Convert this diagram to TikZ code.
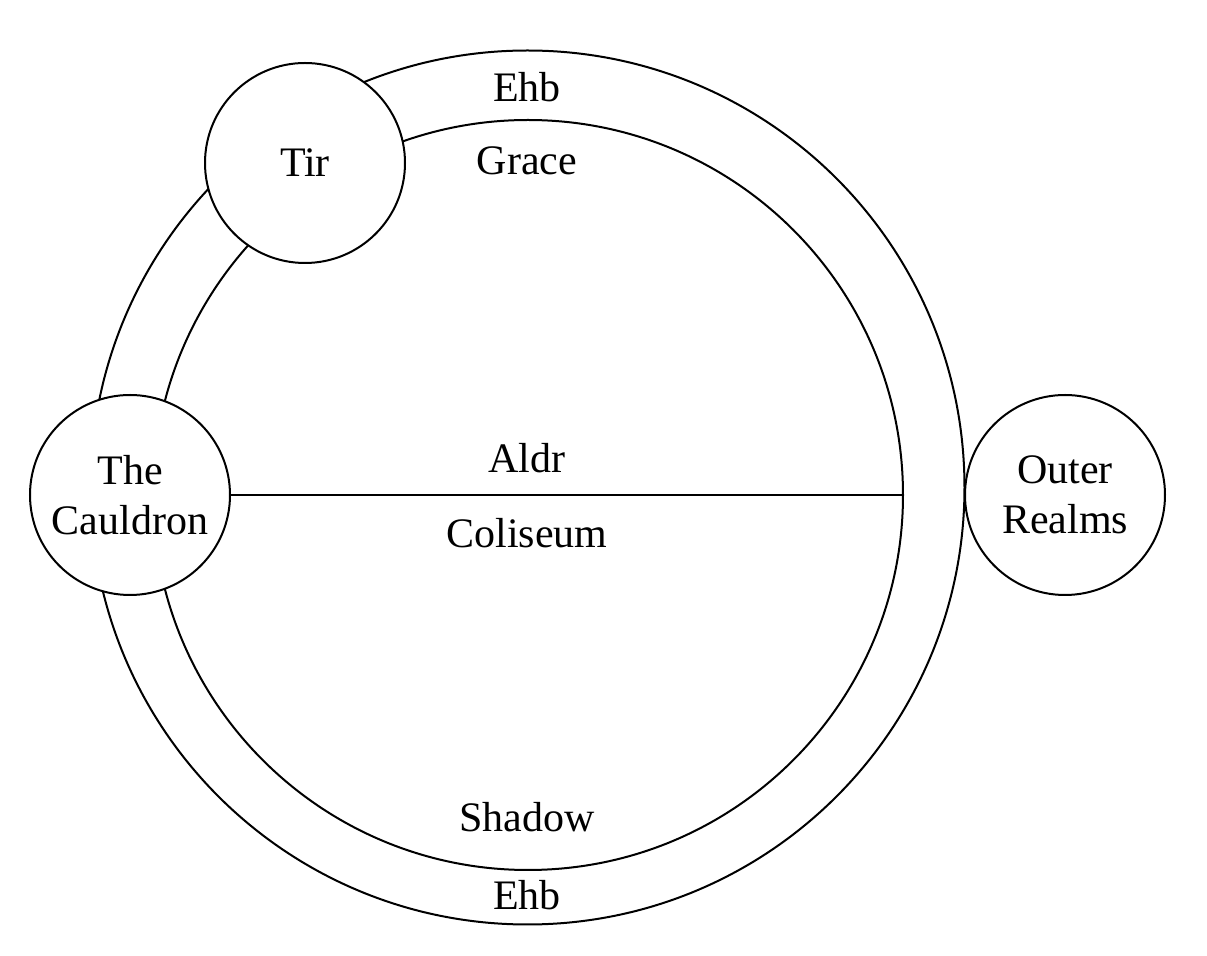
\documentclass[tikz,border=0pt]{standalone}
\usepackage{fontspec}
\setmainfont{Liberation Serif}
\begin{document}
\begin{tikzpicture}[x=0.5pt,y=-0.5pt,line width=1pt,
  realm/.style={draw,circle,fill=white,minimum size=100pt,inner sep=0pt,align=center,font=\fontsize{21}{25}\selectfont},
  lbl/.style={inner sep=0pt,anchor=base,font=\fontsize{21}{25}\selectfont}]
\useasboundingbox (0,0) rectangle (1207,956);
\coordinate (outerc) at (527.5,487.5);
\coordinate (innerc) at (528,495);
\draw (outerc) circle [radius=218.5pt];
\draw (innerc) circle [radius=187.5pt];
\coordinate (aldrend) at (903,495);
\node[realm] (cauldron) at (130,495) {The\\Cauldron};
\node[realm] (tir) at (305,163) {Tir};
\node[realm] (outer) at (1065,495) {Outer\\Realms};
\draw (cauldron.east) -- (aldrend);
\node[lbl] (ehbtop) at (527,102) {Ehb};
\node[lbl] (grace) at (527,175) {Grace};
\node[lbl] (aldr) at (527,473) {Aldr};
\node[lbl] (coliseum) at (527,548) {Coliseum};
\node[lbl] (shadow) at (527,832) {Shadow};
\node[lbl] (ehbbot) at (527,910) {Ehb};
\end{tikzpicture}
\end{document}
